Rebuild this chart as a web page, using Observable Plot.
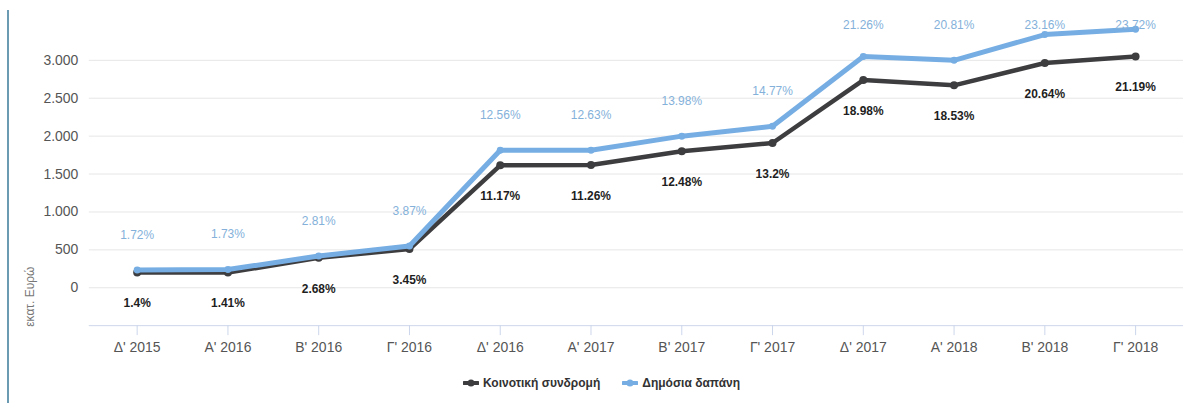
<!DOCTYPE html>
<html>
<head>
<meta charset="utf-8">
<script src="https://cdn.jsdelivr.net/npm/d3@7"></script>
<script src="https://cdn.jsdelivr.net/npm/@observablehq/plot@0.6"></script>
<style>
  html, body { margin: 0; padding: 0; background: #fff; overflow: hidden; width: 1183px; height: 403px; }
  body { position: relative; font-family: "Liberation Sans", Arial, sans-serif; }
  #frame { position: absolute; left: 7px; top: 10px; width: 2px; height: 393px; background: #6a9bb3; }
  #chart { position: absolute; left: 0; top: 0; }
  #legend { position: absolute; left: 0; top: 373px; width: 1183px; height: 20px; display: flex; justify-content: center; align-items: center; gap: 22px; padding-left: 20px; box-sizing: border-box; font-size: 12px; font-weight: bold; color: #333; }
  #legend .item { display: flex; align-items: center; gap: 4px; }
  g[aria-label^="x-axis"] line, g[aria-label^="x-axis"] path { stroke: #ccd6eb; stroke-opacity: 1; }
</style>
</head>
<body>
<div id="frame"></div>
<div id="chart"></div>
<div id="legend"></div>
<script>
const categories = ["Δ' 2015","Α' 2016","Β' 2016","Γ' 2016","Δ' 2016","Α' 2017","Β' 2017","Γ' 2017","Δ' 2017","Α' 2018","Β' 2018","Γ' 2018"];
const communityValues = [200, 200, 395, 510, 1615, 1620, 1800, 1910, 2740, 2670, 2965, 3050];
const publicValues = [235, 240, 420, 550, 1815, 1815, 2000, 2130, 3050, 3000, 3340, 3410];
const communityPct = ["1.4%","1.41%","2.68%","3.45%","11.17%","11.26%","12.48%","13.2%","18.98%","18.53%","20.64%","21.19%"];
const publicPct = ["1.72%","1.73%","2.81%","3.87%","12.56%","12.63%","13.98%","14.77%","21.26%","20.81%","23.16%","23.72%"];
const yTicks = [0, 500, 1000, 1500, 2000, 2500, 3000];
const seriesNames = ["Κοινοτική συνδρομή", "Δημόσια δαπάνη"];
const seriesColors = ["#3d3d40", "#76aee3"];
const yTitle = "εκατ. Ευρώ";

const W = 1186, H = 365, mL = 89, mR = 0, mT = 22, mB = 39;
const yDomain = [-500, 3500];
const yS = d3.scaleLinear().domain(yDomain).range([H - mB, mT]);

const community = categories.map((c, i) => ({cat: c, v: communityValues[i], label: communityPct[i],
  ly: yS.invert(yS(communityValues[i]) + 31)}));
const pub = categories.map((c, i) => ({cat: c, v: publicValues[i], label: publicPct[i],
  ly: yS.invert(Math.max(yS(publicValues[i]) - 35, 25))}));

const fmt = d => d3.format(",")(d).replace(/,/g, ".");

const plot = Plot.plot({
  width: W, height: H,
  marginLeft: mL, marginRight: mR, marginTop: mT, marginBottom: mB,
  style: {fontFamily: "'Liberation Sans', Arial, sans-serif", fontSize: "14px", color: "#555", background: "transparent", overflow: "visible"},
  x: {type: "point", domain: categories, padding: 0.5, label: null, tickSize: 10, tickPadding: 6},
  y: {domain: yDomain, ticks: yTicks, tickFormat: fmt, tickSize: 0, tickPadding: 11, label: null},
  marks: [
    Plot.ruleY(yTicks, {stroke: "#e6e6e6", strokeWidth: 1}),
    Plot.ruleY([yDomain[0]], {stroke: "#ccd6eb", strokeWidth: 1}),
    Plot.line(community, {x: "cat", y: "v", stroke: seriesColors[0], strokeWidth: 4.5, strokeLinejoin: "round", strokeLinecap: "round"}),
    Plot.dot(community, {x: "cat", y: "v", r: 4, fill: seriesColors[0]}),
    Plot.line(pub, {x: "cat", y: "v", stroke: seriesColors[1], strokeWidth: 5, strokeLinejoin: "round", strokeLinecap: "round"}),
    Plot.dot(pub, {x: "cat", y: "v", r: 3.5, fill: seriesColors[1]}),
    Plot.text(community, {x: "cat", y: "ly", text: "label", fill: "#1e1e1e", fontSize: 12, fontWeight: "bold"}),
    Plot.text(pub, {x: "cat", y: "ly", text: "label", fill: "#84b1da", fontSize: 12}),
    Plot.text([yTitle], {frameAnchor: "left", textAnchor: "middle", rotate: -90, dx: -59, dy: 123, fill: "#777", fontSize: 12})
  ]
});
document.getElementById("chart").appendChild(plot);

const legend = document.getElementById("legend");
seriesNames.forEach((name, i) => {
  const item = document.createElement("div");
  item.className = "item";
  item.innerHTML = `<svg width="16" height="10"><line x1="1" y1="5" x2="15" y2="5" stroke="${seriesColors[i]}" stroke-width="4" stroke-linecap="round"/><circle cx="8" cy="5" r="3.5" fill="${seriesColors[i]}"/></svg><span>${name}</span>`;
  legend.appendChild(item);
});
</script>
</body>
</html>
